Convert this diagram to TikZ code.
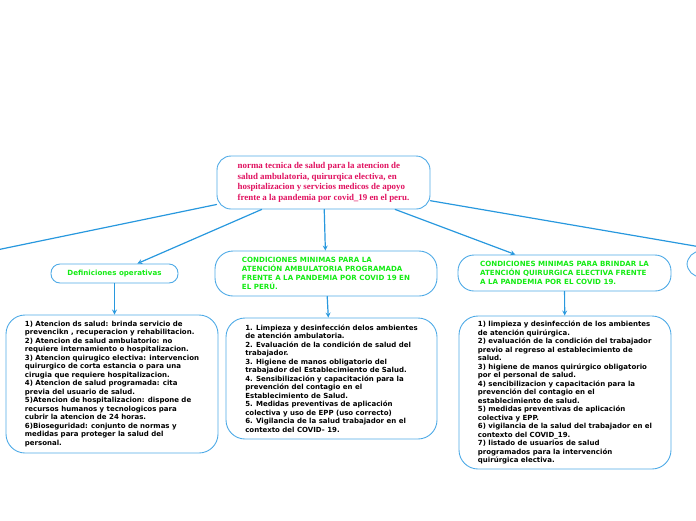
\documentclass[tikz,border=0pt]{standalone}
\usepackage{fontspec}
\setmainfont{DejaVu Sans}
\newfontfamily\serifroot{Liberation Serif}
\definecolor{linkblue}{RGB}{40,152,222}
\definecolor{boxblue}{RGB}{78,170,230}
\definecolor{rootred}{RGB}{224,17,95}
\definecolor{titlegreen}{RGB}{20,235,20}
\begin{document}
\begin{tikzpicture}[>=stealth, x=1pt, y=-1pt, line join=round, line cap=round]
				\tikzset{box/.style={draw=boxblue, line width=0.9pt, rounded corners=14pt, align=left, inner sep=0pt},
					bodytext/.style={box, rounded corners=19pt, font=\fontsize{7}{8.5}\selectfont\bfseries},
					titletext/.style={box, text=titlegreen, font=\fontsize{7.1}{9}\selectfont\bfseries},
					link/.style={draw=linkblue, line width=1.2pt}}
				\useasboundingbox (0,0) rectangle (696,520);
				\clip (0,0) rectangle (696,520);
				\node[box, text=rootred, font=\serifroot\fontsize{8.9}{10.6}\selectfont\bfseries,
					minimum width=213, minimum height=53] (norma) at (323.5,182.5)
					{norma tecnica de salud para la atencion de\\ salud ambulatoria, quirurqica electiva, en\\
					hospitalizacion y servicios medicos de apoyo\\ frente a la pandemia por covid\_19 en el peru.};
				\node[titletext, align=center, rounded corners=9pt, minimum width=127, minimum height=19] (defin) at (114.5,273.5)
					{Definiciones operativas};
				\node[titletext, rounded corners=18pt, minimum width=222, minimum height=45] (ambul) at (326,273.5)
					{CONDICIONES MINIMAS PARA LA\\ ATENCIÓN AMBULATORIA PROGRAMADA\\
					FRENTE A LA PANDEMIA POR COVID 19 EN\\ EL PERÚ.};
				\node[titletext, rounded corners=16pt, minimum width=213, minimum height=36] (quirur) at (564.5,273)
					{CONDICIONES MINIMAS PARA BRINDAR LA\\ ATENCIÓN QUIRURGICA ELECTIVA FRENTE\\
					A LA PANDEMIA POR EL COVID 19.};
				\node[box, minimum width=226, minimum height=26] (rechts) at (800,264) {};
				\coordinate (links) at (-100,270);
				\node[bodytext, minimum width=212, minimum height=138] (defbox) at (112,384)
					{1) Atencion ds salud: brinda servicio de\\ prevencikn , recuperacion y rehabilitacion.\\
					2) Atencion de salud ambulatorio: no\\ requiere internamiento o hospitalizacion.\\
					3) Atencion quirugico electiva: intervencion\\ quirurgico de corta estancia o para una\\
					cirugia que requiere hospitalizacion.\\ 4) Atencion de salud programada: cita\\
					previa del usuario de salud.\\ 5)Atencion de hospitalizacion: dispone de\\
					recursos humanos y tecnologicos para\\ cubrir la atencion de 24 horas.\\
					6)Bioseguridad: conjunto de normas y\\ medidas para proteger la salud del\\ personal.};
				\node[bodytext, minimum width=211, minimum height=121] (ambbox) at (331.5,378.5)
					{1. Limpieza y desinfección delos ambientes\\ de atención ambulatoria.\\
					2. Evaluación de la condición de salud del\\ trabajador.\\
					3. Higiene de manos obligatorio del\\ trabajador del Establecimiento de Salud.\\
					4. Sensibilización y capacitación para la\\ prevención del contagio en el\\
					Establecimiento de Salud.\\ 5. Medidas preventivas de aplicación\\
					colectiva y uso de EPP (uso correcto)\\ 6. Vigilancia de la salud trabajador en el\\
					contexto del COVID- 19.};
				\node[bodytext, minimum width=212, minimum height=153] (quibox) at (565,392.5)
					{1) limpieza y desinfección de los ambientes\\ de atención quirúrgica.\\
					2) evaluación de la condición del trabajador\\ previo al regreso al establecimiento de\\
					salud.\\ 3) higiene de manos quirúrgico obligatorio\\ por el personal de salud.\\
					4) sencibilizacion y capacitación para la\\ prevención del contagio en el\\
					establecimiento de salud.\\ 5) medidas preventivas de aplicación\\ colectiva y EPP.\\
					6) vigilancia de la salud del trabajador en el\\ contexto del COVID\_19.\\
					7) listado de usuarios de salud\\ programados para la intervención\\ quirúrgica electiva.};
				\draw[link,->] (norma) -- (links);
				\draw[link,->] (norma) -- (defin);
				\draw[link,->] (norma) -- (ambul);
				\draw[link,->] (norma) -- (quirur);
				\draw[link,->] (norma) -- (rechts);
				\draw[link,->] (defin.south) -- (defin.south |- defbox.north);
				\draw[link,->] (ambul) -- (ambbox);
				\draw[link,->] (quirur) -- (quibox);
			\end{tikzpicture}
\end{document}
